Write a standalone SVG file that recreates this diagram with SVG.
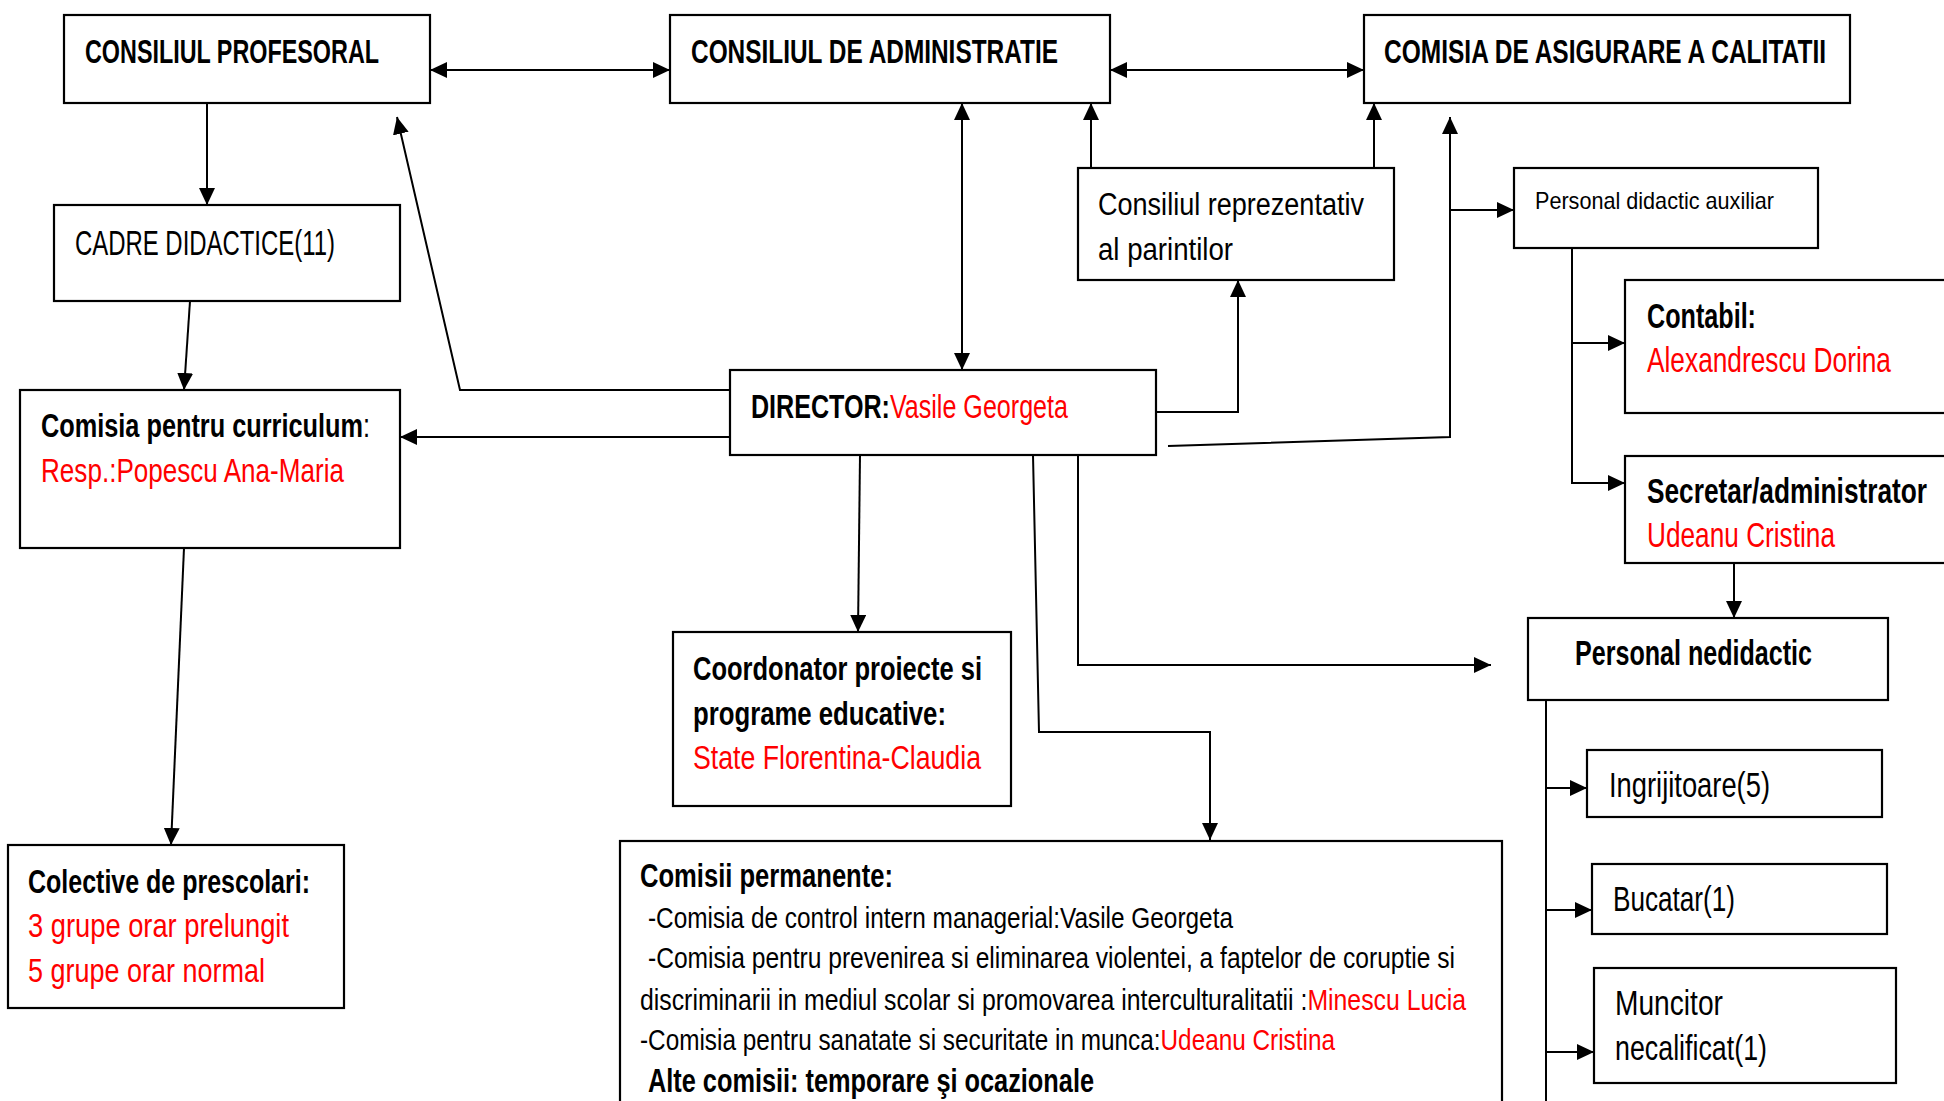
<svg xmlns="http://www.w3.org/2000/svg" width="1944" height="1101" viewBox="0 0 1944 1101">
<style>
.box{fill:#fff;stroke:#000;stroke-width:2.2}
.ln{fill:none;stroke:#000;stroke-width:2}
text{font-family:"Liberation Sans","DejaVu Sans",sans-serif;fill:#000}
.b{font-weight:bold}
.r{fill:#ff0000}
.n{font-weight:normal}
</style>
<defs>
<marker id="a" viewBox="0 0 17 16" refX="17" refY="8" markerWidth="17" markerHeight="16" markerUnits="userSpaceOnUse" orient="auto-start-reverse">
<path d="M0,0 L17,8 L0,16 z" fill="#000"/>
</marker>
</defs>
<rect width="1944" height="1101" fill="#fff"/>

<g id="connectors">
<line class="ln" x1="430" y1="70" x2="670" y2="70" marker-start="url(#a)" marker-end="url(#a)"/>
<line class="ln" x1="1110" y1="70" x2="1364" y2="70" marker-start="url(#a)" marker-end="url(#a)"/>
<line class="ln" x1="207" y1="103" x2="207" y2="205" marker-end="url(#a)"/>
<line class="ln" x1="190" y1="301" x2="184" y2="390" marker-end="url(#a)"/>
<line class="ln" x1="184" y1="548" x2="171" y2="845" marker-end="url(#a)"/>
<polyline class="ln" points="730,390 460,390 397,117" marker-end="url(#a)"/>
<line class="ln" x1="730" y1="437" x2="400" y2="437" marker-end="url(#a)"/>
<line class="ln" x1="962" y1="103" x2="962" y2="370" marker-start="url(#a)" marker-end="url(#a)"/>
<line class="ln" x1="1091" y1="168" x2="1091" y2="103" marker-end="url(#a)"/>
<line class="ln" x1="1374" y1="168" x2="1374" y2="103" marker-end="url(#a)"/>
<polyline class="ln" points="1156,412 1238,412 1238,280" marker-end="url(#a)"/>
<polyline class="ln" points="1168,446 1450,437 1450,117" marker-end="url(#a)"/>
<line class="ln" x1="1450" y1="210" x2="1514" y2="210" marker-end="url(#a)"/>
<polyline class="ln" points="1572,248 1572,483 1625,483" marker-end="url(#a)"/>
<line class="ln" x1="1572" y1="343" x2="1625" y2="343" marker-end="url(#a)"/>
<line class="ln" x1="1734" y1="563" x2="1734" y2="618" marker-end="url(#a)"/>
<polyline class="ln" points="1078,455 1078,665 1491,665" marker-end="url(#a)"/>
<line class="ln" x1="860" y1="455" x2="858" y2="632" marker-end="url(#a)"/>
<polyline class="ln" points="1033,455 1039,732 1210,732 1210,840" marker-end="url(#a)"/>
<line class="ln" x1="1546" y1="700" x2="1546" y2="1101"/>
<line class="ln" x1="1546" y1="788" x2="1587" y2="788" marker-end="url(#a)"/>
<line class="ln" x1="1546" y1="910" x2="1592" y2="910" marker-end="url(#a)"/>
<line class="ln" x1="1546" y1="1052" x2="1594" y2="1052" marker-end="url(#a)"/>
</g>

<g id="consiliul-profesoral">
<rect class="box" x="64" y="15" width="366" height="88"/>
<text class="b" x="85" y="63" font-size="34" textLength="294" lengthAdjust="spacingAndGlyphs">CONSILIUL PROFESORAL</text>
</g>
<g id="consiliul-administratie">
<rect class="box" x="670" y="15" width="440" height="88"/>
<text class="b" x="691" y="63" font-size="34" textLength="367" lengthAdjust="spacingAndGlyphs">CONSILIUL DE ADMINISTRATIE</text>
</g>
<g id="comisia-calitate">
<rect class="box" x="1364" y="15" width="486" height="88"/>
<text class="b" x="1384" y="63" font-size="34" textLength="442" lengthAdjust="spacingAndGlyphs">COMISIA DE ASIGURARE A CALITATII</text>
</g>
<g id="cadre-didactice">
<rect class="box" x="54" y="205" width="346" height="96"/>
<text x="75" y="255" font-size="35" textLength="260" lengthAdjust="spacingAndGlyphs">CADRE DIDACTICE(11)</text>
</g>
<g id="comisia-curriculum">
<rect class="box" x="20" y="390" width="380" height="158"/>
<text class="b" x="41" y="437" font-size="33" textLength="329" lengthAdjust="spacingAndGlyphs">Comisia pentru curriculum<tspan class="n">:</tspan></text>
<text class="r" x="41" y="482" font-size="33" textLength="303" lengthAdjust="spacingAndGlyphs">Resp.:Popescu Ana-Maria</text>
</g>
<g id="director">
<rect class="box" x="730" y="370" width="426" height="85"/>
<text class="b" x="751" y="418" font-size="34" textLength="317" lengthAdjust="spacingAndGlyphs">DIRECTOR:<tspan class="n r">Vasile Georgeta</tspan></text>
</g>
<g id="consiliul-parinti">
<rect class="box" x="1078" y="168" width="316" height="112"/>
<text x="1098" y="215" font-size="31" textLength="266" lengthAdjust="spacingAndGlyphs">Consiliul reprezentativ</text>
<text x="1098" y="260" font-size="31" textLength="135" lengthAdjust="spacingAndGlyphs">al parintilor</text>
</g>
<g id="personal-didactic-auxiliar">
<rect class="box" x="1514" y="168" width="304" height="80"/>
<text x="1535" y="209" font-size="24" textLength="239" lengthAdjust="spacingAndGlyphs">Personal didactic auxiliar</text>
</g>
<g id="contabil">
<rect class="box" x="1625" y="280" width="340" height="133"/>
<text class="b" x="1647" y="328" font-size="35" textLength="109" lengthAdjust="spacingAndGlyphs">Contabil:</text>
<text class="r" x="1647" y="372" font-size="35" textLength="244" lengthAdjust="spacingAndGlyphs">Alexandrescu Dorina</text>
</g>
<g id="secretar">
<rect class="box" x="1625" y="456" width="340" height="107"/>
<text class="b" x="1647" y="503" font-size="35" textLength="280" lengthAdjust="spacingAndGlyphs">Secretar/administrator</text>
<text class="r" x="1647" y="547" font-size="35" textLength="188" lengthAdjust="spacingAndGlyphs">Udeanu Cristina</text>
</g>
<g id="personal-nedidactic">
<rect class="box" x="1528" y="618" width="360" height="82"/>
<text class="b" x="1575" y="665" font-size="35" textLength="237" lengthAdjust="spacingAndGlyphs">Personal nedidactic</text>
</g>
<g id="coordonator">
<rect class="box" x="673" y="632" width="338" height="174"/>
<text class="b" x="693" y="680" font-size="34" textLength="289" lengthAdjust="spacingAndGlyphs">Coordonator proiecte si</text>
<text class="b" x="693" y="725" font-size="34" textLength="253" lengthAdjust="spacingAndGlyphs">programe educative:</text>
<text class="r" x="693" y="769" font-size="34" textLength="288" lengthAdjust="spacingAndGlyphs">State Florentina-Claudia</text>
</g>
<g id="colective">
<rect class="box" x="8" y="845" width="336" height="163"/>
<text class="b" x="28" y="893" font-size="33" textLength="282" lengthAdjust="spacingAndGlyphs">Colective de prescolari:</text>
<text class="r" x="28" y="937" font-size="33" textLength="261" lengthAdjust="spacingAndGlyphs">3 grupe orar prelungit</text>
<text class="r" x="28" y="982" font-size="33" textLength="237" lengthAdjust="spacingAndGlyphs">5 grupe orar normal</text>
</g>
<g id="comisii-permanente">
<rect class="box" x="620" y="841" width="882" height="280"/>
<text class="b" x="640" y="887" font-size="33" textLength="253" lengthAdjust="spacingAndGlyphs">Comisii permanente:</text>
<text x="648" y="928" font-size="30" textLength="585" lengthAdjust="spacingAndGlyphs">-Comisia de control intern managerial:Vasile Georgeta</text>
<text x="648" y="968" font-size="30" textLength="807" lengthAdjust="spacingAndGlyphs">-Comisia pentru prevenirea si eliminarea violentei, a faptelor de coruptie si</text>
<text x="640" y="1010" font-size="30" textLength="826" lengthAdjust="spacingAndGlyphs">discriminarii in mediul scolar si promovarea interculturalitatii :<tspan class="r">Minescu Lucia</tspan></text>
<text x="640" y="1050" font-size="30" textLength="695" lengthAdjust="spacingAndGlyphs">-Comisia pentru sanatate si securitate in munca:<tspan class="r">Udeanu Cristina</tspan></text>
<text class="b" x="648" y="1092" font-size="33" textLength="446" lengthAdjust="spacingAndGlyphs">Alte comisii: temporare şi ocazionale</text>
</g>
<g id="ingrijitoare">
<rect class="box" x="1587" y="750" width="295" height="67"/>
<text x="1609" y="797" font-size="35" textLength="161" lengthAdjust="spacingAndGlyphs">Ingrijitoare(5)</text>
</g>
<g id="bucatar">
<rect class="box" x="1592" y="864" width="295" height="70"/>
<text x="1613" y="911" font-size="35" textLength="122" lengthAdjust="spacingAndGlyphs">Bucatar(1)</text>
</g>
<g id="muncitor">
<rect class="box" x="1594" y="968" width="302" height="115"/>
<text x="1615" y="1015" font-size="35" textLength="108" lengthAdjust="spacingAndGlyphs">Muncitor</text>
<text x="1615" y="1060" font-size="35" textLength="152" lengthAdjust="spacingAndGlyphs">necalificat(1)</text>
</g>
</svg>
